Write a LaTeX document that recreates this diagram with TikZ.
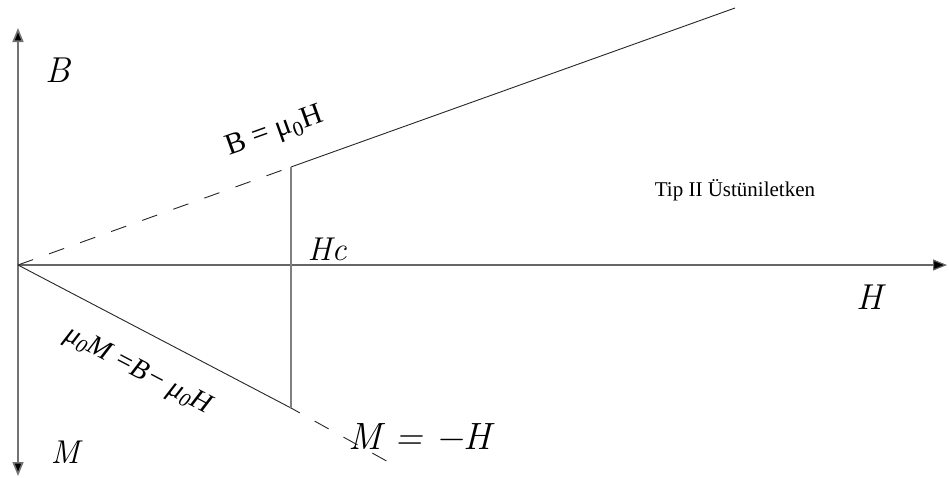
\documentclass[tikz,border=0pt]{standalone}
\usepackage{fontspec}
\newfontfamily\tms{Liberation Serif}
\newfontfamily\lmr{Latin Modern Roman}
\usetikzlibrary{arrows.meta}
\begin{document}
\begin{tikzpicture}[x=1pt,y=-1pt,
  axis/.style={draw=black!55,line width=1.6pt},
  axtip/.style={-{Triangle[length=14pt,width=11pt,fill=black]}},
  curve/.style={draw=black!85,line width=0.9pt},
  dsh/.style={curve,dash pattern=on 16pt off 17pt},
  jump/.style={draw=black!50,line width=1.6pt},
  bigit/.style={font=\lmr\itshape\fontsize{36}{38}\selectfont,inner sep=0pt},
  lbl/.style={inner sep=0pt}]
\useasboundingbox (0,0) rectangle (949,477);
\coordinate (O) at (18,265);
\coordinate (P) at (291,167);
\coordinate (Q) at (291,408);
\coordinate (E1) at (735,8);
\coordinate (E2) at (401,469);
\coordinate (Ytop) at (18,28);
\coordinate (Ybot) at (18,476);
\coordinate (Xend) at (947,265);
% axes
\draw[axis,axtip] (O) -- (Ytop);
\draw[axis,axtip] (O) -- (Ybot);
\draw[axis,draw=black!60,line width=1.2pt,axtip] (O) -- (Xend);
% curves
\draw[dsh] (O) -- (P);
\draw[curve] (P) -- (E1);
\draw[curve] (O) -- (Q);
\draw[dsh,dash phase=6pt] (Q) -- (E2);
\draw[jump] (P) -- (Q);
% labels
\node[bigit] (lB) at (58,70) {B};
\node[lbl,font=\tms\fontsize{30}{32}\selectfont,rotate=19.7] (lBmu) at (275,132) {B = μ\textsubscript{0}H};
\node[bigit,font=\lmr\itshape\fontsize{33}{35}\selectfont] (lHc) at (327,249) {Hc};
\node[bigit] (lH) at (870,297) {H};
\node[lbl,font=\tms\fontsize{21}{23}\selectfont] (ltip) at (735,190) {Tip II Üstüniletken};
\node[lbl,font=\tms\itshape\fontsize{28}{30}\selectfont,rotate=-27.7] (lmuM) at (138,371) {μ\textsubscript{0}M =B− μ\textsubscript{0}H};
\node[bigit,font=\lmr\itshape\fontsize{38}{40}\selectfont] (lMH) at (420,437) {M\,\,=\,\,−H};
\node[bigit,font=\lmr\itshape\fontsize{33}{35}\selectfont] (lM) at (65,452) {M};
\end{tikzpicture}
\end{document}
